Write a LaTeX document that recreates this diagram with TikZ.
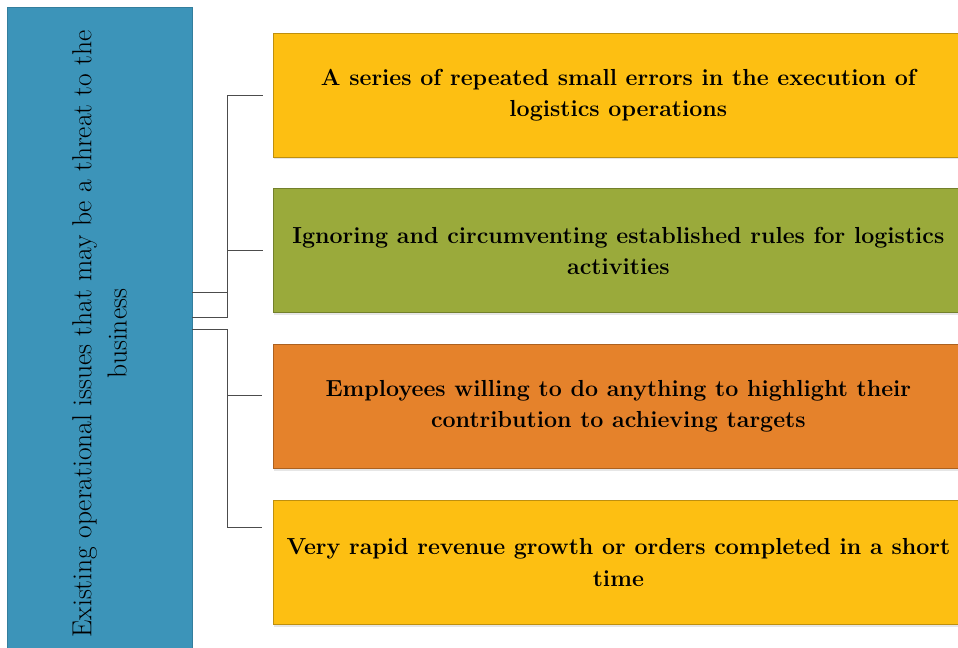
\documentclass[tikz,border=0pt]{standalone}
\usepackage{xcolor}
\usetikzlibrary{positioning,shadows}

\definecolor{threatblue}{HTML}{3C94B9}
\definecolor{issueyellow}{HTML}{FDBF12}
\definecolor{issuegreen}{HTML}{9AAA3B}
\definecolor{issueorange}{HTML}{E5822B}

\tikzset{
  issuebox/.style={rectangle,draw=#1!75!black,fill=#1,line width=0.6pt,
    minimum width=20.7cm,minimum height=3.72cm,anchor=west,align=center,
    font=\fontsize{19.8}{26.5}\selectfont\bfseries,
    drop shadow={opacity=0.2,shadow xshift=0.4pt,shadow yshift=-1.8pt}},
  conn/.style={draw=black!70,line width=0.8pt}
}

\begin{document}
\begin{tikzpicture}[x=0.03cm,y=-0.03cm]
    \useasboundingbox (0,0) rectangle (958,647);

    % Left column
    \node[rectangle,draw=threatblue!85!black,fill=threatblue,rotate=90,
      minimum width=19.6cm,minimum height=5.55cm,align=center,
      font=\fontsize{23.5}{30}\selectfont] (threat) at (99.5,334)
      {Existing operational issues that may be a threat to the\\business};

    % Issues
    \node[issuebox=issueyellow] (err) at (273,95)
      {A series of repeated small errors in the execution of\\logistics operations};
    \node[issuebox=issuegreen] (rules) at (273,250.5)
      {Ignoring and circumventing established rules for logistics\\activities};
    \node[issuebox=issueorange] (staff) at (273,406.5)
      {Employees willing to do anything to highlight their\\contribution to achieving targets};
    \node[issuebox=issueyellow] (growth) at (273,562.5)
      {Very rapid revenue growth or orders completed in a short\\time};

    % Brackets
    \coordinate (ja) at (227,292);
    \coordinate (jb) at (227,317);
    \coordinate (jc) at (227,329);
    \coordinate (t3) at (262,395);
    \coordinate (t4) at (262,527);
    \draw[conn] (threat.south |- ja) -- (ja);
    \draw[conn] (threat.south |- jb) -- (jb) |- ([xshift=-0.3cm]err.west);
    \draw[conn] (jb |- rules.west) -- ([xshift=-0.3cm]rules.west);
    \draw[conn] (threat.south |- jc) -- (jc) |- (t4);
    \draw[conn] (jc |- t3) -- (t3);
\end{tikzpicture}
\end{document}
